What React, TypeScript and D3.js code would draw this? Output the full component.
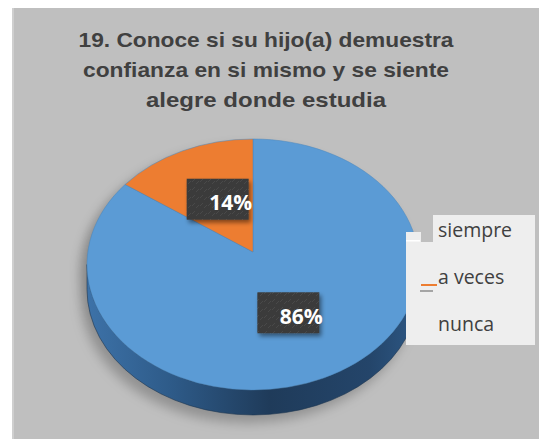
import React from "react";
import * as d3 from "d3";

const titleLines = [
  "19. Conoce si su hijo(a) demuestra",
  "confianza en si mismo y se siente",
  "alegre donde estudia",
];
const titleWidths = [375, 366, 240];
const categories = ["siempre", "a veces", "nunca"];
const values = [86, 14, 0];
const colors = ["#5b9bd5", "#ed7d31", "#a5a5a5"];

const W = 539;
const H = 439;
const cx = 253;
const cy = 264.5;
const rx = 166;
const ry = 125.5;
const apexY = 252;
const depth = 25;

function pt(a: number, dy = 0): [number, number] {
  return [cx + rx * Math.sin(a), cy + dy - ry * Math.cos(a)];
}

export default function App() {
  const pie = d3.pie<number>().sort(null).value((d) => d)(values);
  const total = d3.sum(values);
  const fmt = d3.format(".0%");

  const slicePath = (a0: number, a1: number) => {
    const p0 = pt(a0);
    const p1 = pt(a1);
    const large = a1 - a0 > Math.PI ? 1 : 0;
    return `M${cx},${apexY}L${p0[0]},${p0[1]}A${rx},${ry} 0 ${large} 1 ${p1[0]},${p1[1]}Z`;
  };

  const rA = pt(Math.PI / 2);
  const lA = pt((3 * Math.PI) / 2);
  const sidePath = `M${rA[0]},${rA[1]}A${rx},${ry} 0 0 1 ${lA[0]},${lA[1]}L${lA[0]},${lA[1] + depth}A${rx},${ry} 0 0 0 ${rA[0]},${rA[1] + depth}Z`;
  const shadowPath = `M${rA[0]},${rA[1]}A${rx},${ry} 0 0 0 ${lA[0]},${lA[1]}L${lA[0]},${lA[1] + depth}A${rx},${ry} 0 0 0 ${rA[0]},${rA[1] + depth}Z`;

  const legendY = d3.scalePoint<string>().domain(categories).range([229, 323]);

  return (
    <svg width={W} height={H} style={{ position: "absolute", left: 0, top: 0 }}>
      <defs>
        <linearGradient id="side" x1={cx - rx} x2={cx + rx} y1={0} y2={0} gradientUnits="userSpaceOnUse">
          <stop offset="0" stopColor="#3d72a8" />
          <stop offset="0.25" stopColor="#2e5b89" />
          <stop offset="0.55" stopColor="#1f3b5a" />
          <stop offset="0.85" stopColor="#24456a" />
          <stop offset="1" stopColor="#2d5885" />
        </linearGradient>
        <filter id="blur" x="-20%" y="-20%" width="140%" height="140%">
          <feGaussianBlur stdDeviation="6" />
        </filter>
        <filter id="lblShadow" x="-30%" y="-30%" width="160%" height="160%">
          <feDropShadow dx="2" dy="3" stdDeviation="2" floodColor="#000" floodOpacity="0.45" />
        </filter>
        <pattern id="tex" width="8" height="8" patternUnits="userSpaceOnUse">
          <rect width="8" height="8" fill="#3a3a3a" />
          <path d="M0,6 L3,3 M4,8 L7,5" stroke="#4a4a4a" strokeWidth="1" />
        </pattern>
      </defs>
      <rect x={12} y={8} width={W - 12} height={H - 8} fill="#bfbfbf" />
      <rect x={12} y={8} width={2} height={H - 8} fill="#cfcfcf" />

      {titleLines.map((t, i) => (
        <text
          key={i}
          x={266}
          y={47 + i * 30}
          textAnchor="middle"
          fontFamily="Liberation Sans, Arial, sans-serif"
          fontWeight="bold"
          fontSize={20.5}
          fill="#404040"
          textLength={titleWidths[i]}
          lengthAdjust="spacingAndGlyphs"
        >
          {t}
        </text>
      ))}

      <g>
        <path d={shadowPath} transform="translate(-6,8)" fill="rgba(0,0,0,0.24)" filter="url(#blur)" />
        <ellipse cx={cx - 6} cy={cy + 8} rx={rx} ry={ry} fill="rgba(0,0,0,0.1)" filter="url(#blur)" />
        <path d={sidePath} fill="url(#side)" stroke="#1c3550" strokeWidth={0.6} />
        {pie.map((s, i) =>
          s.endAngle - s.startAngle > 0 ? (
            <path
              key={i}
              d={slicePath(s.startAngle, s.endAngle)}
              fill={colors[i]}
              stroke="#4a86bd"
              strokeWidth={0.5}
            />
          ) : null
        )}
      </g>

      {pie.map((s, i) => {
        if (s.value <= 0) return null;
        const m = (s.startAngle + s.endAngle) / 2;
        const bx = cx + rx * 0.5 * Math.sin(m);
        const by = 256 - ry * 0.5 * Math.cos(m);
        return (
          <g key={i}>
            <rect x={bx - 31} y={by - 20.5} width={62} height={41} fill="url(#tex)" filter="url(#lblShadow)" />
            <text
              x={bx + 13}
              y={by + 11}
              textAnchor="middle"
              fontFamily="Open Sans, Lato, sans-serif"
              fontWeight="bold"
              fontSize={21}
              fill="#ffffff"
            >
              {fmt(s.value / total)}
            </text>
          </g>
        );
      })}

      <g>
        <rect x={433} y={215} width={102} height={130} fill="#eeeeee" />
        <rect x={406} y={232} width={15} height={113} fill="#eeeeee" />
        <rect x={406} y={242} width={129} height={103} fill="#eeeeee" />
        <rect x={406} y={240} width={14} height={1.5} fill="#ffffff" />
        {categories.map((c, i) => (
          <g key={c}>
            {i === 1 && <rect x={421} y={284} width={16} height={2} fill={colors[1]} />}
            {i === 2 && <rect x={420} y={290} width={13} height={2} fill="#a5a5a5" />}
            <text
              x={438}
              y={(legendY(c) as number) + 8}
              fontFamily="Open Sans, sans-serif"
              fontSize={19.5}
              fill="#404040"
            >
              {c}
            </text>
          </g>
        ))}
      </g>
    </svg>
  );
}
